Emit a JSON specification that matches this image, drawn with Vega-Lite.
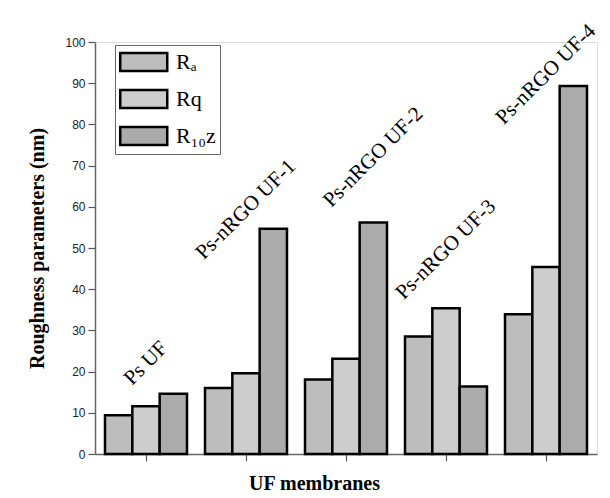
{
  "$schema": "https://vega.github.io/schema/vega-lite/v6.json",
  "width": 502,
  "height": 412,
  "autosize": {"type": "none"},
  "padding": {"left": 95, "top": 42, "right": 13, "bottom": 44},
  "background": "white",
  "datasets": {
    "roughness": [
      {"membrane": "Ps UF", "parameter": "Ra", "value": 9.4},
      {"membrane": "Ps UF", "parameter": "Rq", "value": 11.6},
      {"membrane": "Ps UF", "parameter": "R10z", "value": 14.6},
      {"membrane": "Ps-nRGO UF-1", "parameter": "Ra", "value": 16.0},
      {"membrane": "Ps-nRGO UF-1", "parameter": "Rq", "value": 19.6},
      {"membrane": "Ps-nRGO UF-1", "parameter": "R10z", "value": 54.7},
      {"membrane": "Ps-nRGO UF-2", "parameter": "Ra", "value": 18.1},
      {"membrane": "Ps-nRGO UF-2", "parameter": "Rq", "value": 23.1},
      {"membrane": "Ps-nRGO UF-2", "parameter": "R10z", "value": 56.2},
      {"membrane": "Ps-nRGO UF-3", "parameter": "Ra", "value": 28.5},
      {"membrane": "Ps-nRGO UF-3", "parameter": "Rq", "value": 35.4},
      {"membrane": "Ps-nRGO UF-3", "parameter": "R10z", "value": 16.4},
      {"membrane": "Ps-nRGO UF-4", "parameter": "Ra", "value": 33.9},
      {"membrane": "Ps-nRGO UF-4", "parameter": "Rq", "value": 45.4},
      {"membrane": "Ps-nRGO UF-4", "parameter": "R10z", "value": 89.3}
    ],
    "annotations": [
      {"membrane": "Ps UF", "parameter": "Rq", "label_at": 22.0},
      {"membrane": "Ps-nRGO UF-1", "parameter": "Rq", "label_at": 59.3},
      {"membrane": "Ps-nRGO UF-2", "parameter": "R10z", "label_at": 72.0},
      {"membrane": "Ps-nRGO UF-3", "parameter": "Rq", "label_at": 49.6},
      {"membrane": "Ps-nRGO UF-4", "parameter": "Rq", "label_at": 92.1}
    ]
  },
  "layer": [
    {
      "data": {"name": "roughness"},
      "mark": {"type": "bar", "stroke": "black", "strokeWidth": 2.5, "strokeJoin": "miter"},
      "encoding": {
        "x": {
          "field": "membrane",
          "type": "nominal",
          "sort": ["Ps UF", "Ps-nRGO UF-1", "Ps-nRGO UF-2", "Ps-nRGO UF-3", "Ps-nRGO UF-4"],
          "scale": {"paddingInner": 0.18, "paddingOuter": 0.1},
          "axis": {
            "labels": false,
            "title": "UF membranes",
            "titleFont": "Liberation Serif",
            "titleFontSize": 20,
            "titleFontWeight": "bold",
            "titleColor": "black",
            "titleX": 219,
            "titleY": 35,
            "titleBaseline": "alphabetic",
            "titleAlign": "center",
            "domainColor": "#666666",
            "domainWidth": 1.5,
            "tickColor": "#555555",
            "tickWidth": 1.2,
            "tickSize": 7
          }
        },
        "xOffset": {
          "field": "parameter",
          "type": "nominal",
          "sort": ["Ra", "Rq", "R10z"],
          "scale": {"paddingInner": 0, "paddingOuter": 0}
        },
        "y": {
          "field": "value",
          "type": "quantitative",
          "scale": {"domain": [0, 100], "nice": false},
          "axis": {
            "values": [0, 5, 10, 15, 20, 25, 30, 35, 40, 45, 50, 55, 60, 65, 70, 75, 80, 85, 90, 95, 100],
            "labelExpr": "datum.value % 10 === 0 ? datum.label : ''",
            "tickSize": {"condition": {"test": "datum.value % 10 === 0", "value": 7}, "value": 4},
            "grid": false,
            "title": "Roughness parameters (nm)",
            "titleFont": "Liberation Serif",
            "titleFontSize": 20,
            "titleFontWeight": "bold",
            "titleColor": "black",
            "titlePadding": 17,
            "labelFont": "Liberation Sans",
            "labelFontSize": 12,
            "labelColor": "#222222",
            "labelPadding": 3,
            "domainColor": "#666666",
            "domainWidth": 1.5,
            "tickColor": "#555555",
            "tickWidth": 1.2
          }
        },
        "fill": {
          "field": "parameter",
          "type": "nominal",
          "sort": ["Ra", "Rq", "R10z"],
          "scale": {"domain": ["Ra", "Rq", "R10z"], "range": ["#bdbdbd", "#cdcdcd", "#ababab"]},
          "legend": {
            "orient": "none",
            "legendX": 20,
            "legendY": 3,
            "title": null,
            "symbolType": "M-1,-0.766H3V0.766H-1Z",
            "symbolSize": 552,
            "symbolStrokeColor": "black",
            "symbolStrokeWidth": 2.5,
            "symbolOpacity": 1,
            "labelFont": "Liberation Serif",
            "labelFontSize": 22,
            "labelColor": "black",
            "labelOffset": 31,
            "labelExpr": "datum.label === 'Ra' ? 'Rₐ' : datum.label === 'R10z' ? 'R₁₀z' : datum.label",
            "strokeColor": "#666666",
            "padding": 4,
            "rowPadding": 9
          }
        }
      }
    },
    {
      "data": {"name": "annotations"},
      "mark": {
        "type": "text",
        "angle": -45,
        "font": "Liberation Serif",
        "fontSize": 21,
        "align": "center",
        "baseline": "middle",
        "color": "black"
      },
      "encoding": {
        "x": {
          "field": "membrane",
          "type": "nominal",
          "sort": ["Ps UF", "Ps-nRGO UF-1", "Ps-nRGO UF-2", "Ps-nRGO UF-3", "Ps-nRGO UF-4"]
        },
        "xOffset": {
          "field": "parameter",
          "type": "nominal",
          "sort": ["Ra", "Rq", "R10z"]
        },
        "y": {"field": "label_at", "type": "quantitative"},
        "text": {"field": "membrane"}
      }
    }
  ]
}
